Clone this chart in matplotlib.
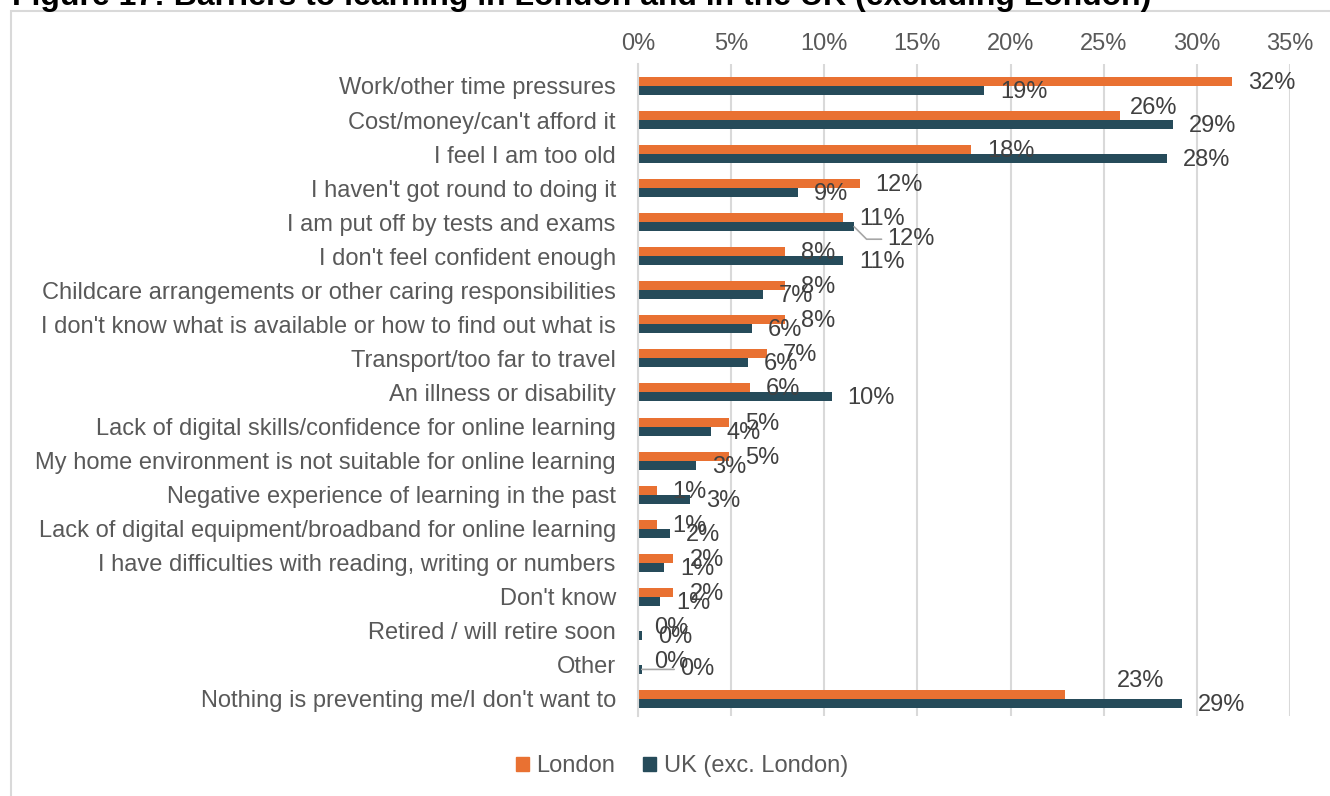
"""Barriers to learning: London vs UK (exc. London), horizontal grouped bars."""

import matplotlib
matplotlib.use("Agg")
import matplotlib.pyplot as plt
from matplotlib.patches import Patch, Rectangle

plt.rcParams["font.family"] = ["Liberation Sans", "DejaVu Sans"]

TITLE = "Figure 17: Barriers to learning in London and in the UK (excluding London)"

categories = [
    "Work/other time pressures",
    "Cost/money/can't afford it",
    "I feel I am too old",
    "I haven't got round to doing it",
    "I am put off by tests and exams",
    "I don't feel confident enough",
    "Childcare arrangements or other caring responsibilities",
    "I don't know what is available or how to find out what is",
    "Transport/too far to travel",
    "An illness or disability",
    "Lack of digital skills/confidence for online learning",
    "My home environment is not suitable for online learning",
    "Negative experience of learning in the past",
    "Lack of digital equipment/broadband for online learning",
    "I have difficulties with reading, writing or numbers",
    "Don't know",
    "Retired / will retire soon",
    "Other",
    "Nothing is preventing me/I don't want to",
]
london = [31.9, 25.9, 17.9, 11.9, 11.0, 7.9, 7.9, 7.9, 6.9, 6.0,
          4.9, 4.9, 1.0, 1.0, 1.9, 1.9, 0.0, 0.0, 22.9]
uk = [18.6, 28.7, 28.4, 8.6, 11.6, 11.0, 6.7, 6.1, 5.9, 10.4,
      3.9, 3.1, 2.8, 1.7, 1.4, 1.2, 0.2, 0.2, 29.2]
xticks = [0, 5, 10, 15, 20, 25, 30, 35]

LONDON_COLOR = "#E97132"
UK_COLOR = "#264B5A"
GRID_COLOR = "#D9D9D9"
TEXT_COLOR = "#595959"
VALUE_COLOR = "#404040"
FS = 17

# label offsets in pixels (right, down) from the end of each bar
DEFAULT_OFFSET = (16, 1.5)
nudges = {
    ("London", 1): (9, -7.5),
    ("UK", 4): (33, 12.5),
    ("UK", 17): (38, 0),
    ("London", 18): (52, -13.5),
}
leaders = {("UK", 4): "angle,angleA=0,angleB=-45,rad=0", ("UK", 17): "arc3"}

W, H = 1330, 796
fig = plt.figure(figsize=(W / 100, H / 100), dpi=100)
ax = fig.add_axes([638 / W, 1 - 716 / H, 652 / W, 652 / H])

bar_h = 0.264
rows = list(range(len(categories)))
ax.barh([r - bar_h / 2 for r in rows], london, height=bar_h, color=LONDON_COLOR, label="London")
ax.barh([r + bar_h / 2 for r in rows], uk, height=bar_h, color=UK_COLOR, label="UK (exc. London)")

for series, values, sign in (("London", london, -1), ("UK", uk, 1)):
    for r, v in enumerate(values):
        dx, dy = nudges.get((series, r), DEFAULT_OFFSET)
        arrow = None
        if (series, r) in leaders:
            arrow = dict(arrowstyle="-", color="#A6A6A6", lw=1.2, shrinkA=2, shrinkB=0,
                         connectionstyle=leaders[(series, r)])
        ax.annotate(f"{round(v)}%", xy=(v, r + sign * bar_h / 2), xytext=(dx, -dy),
                    textcoords="offset pixels", ha="left", va="center",
                    fontsize=FS, color=VALUE_COLOR, arrowprops=arrow,
                    annotation_clip=False)

ax.set_xlim(0, 35)
ax.set_ylim(18.5, -0.646)
ax.xaxis.tick_top()
ax.set_xticks(xticks)
ax.set_xticklabels([f"{t}%" for t in xticks])
ax.set_yticks(rows)
ax.set_yticklabels(categories)
ax.tick_params(axis="x", length=0, pad=6.5, labelsize=FS, labelcolor=TEXT_COLOR)
ax.tick_params(axis="y", length=0, pad=16, labelsize=FS, labelcolor=TEXT_COLOR)
for side in ("top", "right", "bottom"):
    ax.spines[side].set_visible(False)
ax.spines["left"].set_color(GRID_COLOR)
ax.spines["left"].set_linewidth(1.5)
ax.xaxis.grid(True, color=GRID_COLOR, lw=1.5)
ax.set_axisbelow(True)

handles = [Patch(color=LONDON_COLOR, label="London"),
           Patch(color=UK_COLOR, label="UK (exc. London)")]
fig.legend(handles=handles, loc="center", bbox_to_anchor=(682 / W, 1 - 766 / H),
           ncol=2, frameon=False, fontsize=FS, handlelength=0.55, handleheight=0.55,
           handletextpad=0.3, columnspacing=1.2, labelcolor=TEXT_COLOR)

# chart frame and title (both run off the edges of the canvas)
fig.add_artist(Rectangle((11 / W, -0.1), 1.2, 1.1 - 11 / H, transform=fig.transFigure,
                         fill=False, edgecolor=GRID_COLOR, lw=1.5))
fig.text(12 / W, 1 - 5 / H, TITLE, fontsize=23, fontweight="bold", va="baseline", ha="left")

fig.savefig("out.png", dpi=100)
plt.close(fig)
